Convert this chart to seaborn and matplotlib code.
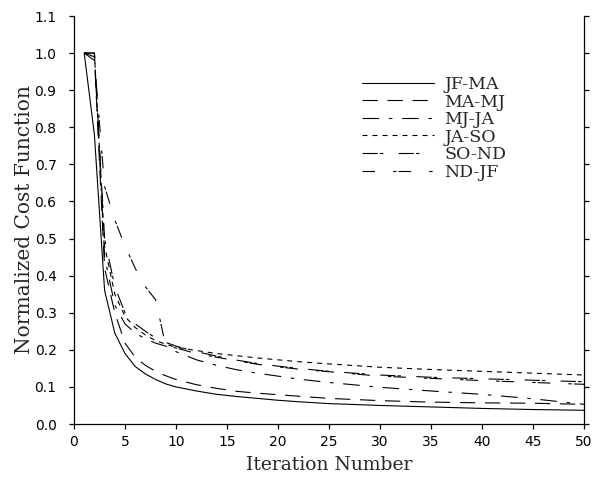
import numpy as np
import pandas as pd
import matplotlib
matplotlib.use("Agg")
import matplotlib.pyplot as plt
from matplotlib.ticker import MultipleLocator, FormatStrFormatter
import seaborn as sns

# iteration numbers
iters = [1, 2, 3, 4, 5, 6, 7, 8, 9, 10, 12, 14, 16, 18, 20, 22, 25, 30, 35, 40, 45, 50]

jf_ma = [1.0, 0.78, 0.36, 0.245, 0.19, 0.155, 0.135, 0.12, 0.108, 0.10, 0.089, 0.08,
         0.074, 0.069, 0.064, 0.060, 0.055, 0.050, 0.046, 0.042, 0.039, 0.037]
ma_mj = [1.0, 0.99, 0.42, 0.30, 0.218, 0.18, 0.158, 0.142, 0.13, 0.12, 0.106, 0.096,
         0.088, 0.083, 0.079, 0.075, 0.069, 0.063, 0.059, 0.057, 0.056, 0.053]
mj_ja = [1.0, 1.0, 0.45, 0.32, 0.27, 0.245, 0.23, 0.218, 0.21, 0.195, 0.173, 0.158,
         0.146, 0.137, 0.129, 0.121, 0.112, 0.099, 0.089, 0.080, 0.068, 0.053]
ja_so = [1.0, 1.0, 0.48, 0.35, 0.29, 0.26, 0.24, 0.225, 0.215, 0.207, 0.198, 0.19,
         0.184, 0.178, 0.173, 0.168, 0.162, 0.153, 0.147, 0.142, 0.137, 0.132]
so_nd = [1.0, 1.0, 0.50, 0.37, 0.30, 0.27, 0.25, 0.232, 0.22, 0.21, 0.195, 0.183,
         0.172, 0.163, 0.156, 0.150, 0.142, 0.132, 0.126, 0.122, 0.118, 0.114]
nd_jf = [1.0, 0.98, 0.64, 0.55, 0.48, 0.42, 0.37, 0.335, 0.21, 0.205, 0.19, 0.18,
         0.17, 0.161, 0.154, 0.148, 0.141, 0.129, 0.123, 0.117, 0.112, 0.107]

periods = ["JF-MA", "MA-MJ", "MJ-JA", "JA-SO", "SO-ND", "ND-JF"]
series = [jf_ma, ma_mj, mj_ja, ja_so, so_nd, nd_jf]

# dash patterns (points, unscaled)
dash_styles = {
    "JF-MA": "",
    "MA-MJ": (11, 7),
    "MJ-JA": (12, 7, 2.5, 7),
    "JA-SO": (3.6, 3.6),
    "SO-ND": (11, 1.5, 2.5, 11),
    "ND-JF": (9, 13, 2.5, 1.5),
}

df = pd.concat(
    [pd.DataFrame({"iteration": iters, "cost": vals, "period": name})
     for name, vals in zip(periods, series)],
    ignore_index=True,
)

sns.set_style("ticks")
plt.rcParams["font.family"] = ["DejaVu Sans"]
plt.rcParams["lines.scale_dashes"] = False

fig = plt.figure(figsize=(5.95, 4.79), dpi=100)
ax = fig.add_axes([74 / 595, 1 - 424 / 479, 510 / 595, 408 / 479])

sns.lineplot(data=df, x="iteration", y="cost", hue="period", style="period",
             hue_order=periods, style_order=periods, palette=["black"] * 6,
             dashes=dash_styles, linewidth=0.8, legend=False, ax=ax)

ax.set_xlim(0, 50)
ax.set_ylim(0, 1.1)
ax.xaxis.set_major_locator(MultipleLocator(5))
ax.yaxis.set_major_locator(MultipleLocator(0.1))
ax.yaxis.set_major_formatter(FormatStrFormatter("%.1f"))
ax.tick_params(direction="out", length=3.6, width=0.9, labelsize=10, colors="black")
ax.tick_params(axis="y", right=True, pad=9)
ax.tick_params(axis="x", pad=4)
for side in ["left", "right", "bottom"]:
    ax.spines[side].set_linewidth(0.9)
    ax.spines[side].set_color("black")
ax.spines["top"].set_visible(False)

ax.set_xlabel("Iteration Number", family="DejaVu Serif", size=13.5, labelpad=5)
ax.set_ylabel("Normalized Cost Function", family="DejaVu Serif", size=14.5,
              labelpad=0.5)

leg = ax.legend(ax.lines[:6], periods, loc="upper left",
                bbox_to_anchor=(362 / 595, 1 - 76 / 479),
                bbox_transform=fig.transFigure, frameon=False,
                prop={"family": "DejaVu Serif", "size": 12.5},
                handlelength=4.15, handletextpad=0.6, labelspacing=0.03,
                borderpad=0, borderaxespad=0)

fig.savefig("out.png", dpi=100)
